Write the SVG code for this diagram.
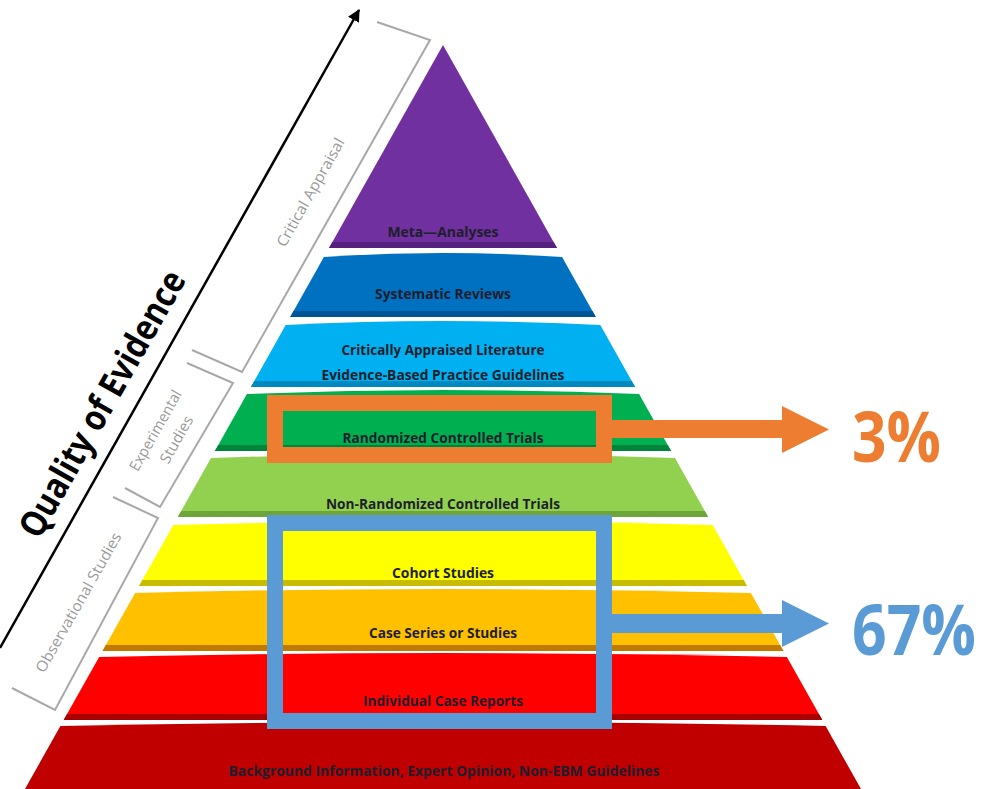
<svg xmlns="http://www.w3.org/2000/svg" width="982" height="789" viewBox="0 0 982 789">
<defs>
<style>
.lbl{font-family:"Open Sans","Liberation Sans",sans-serif;font-weight:bold;font-size:15px;fill:#1e1e2c;text-anchor:middle}
.gl{font-family:"Open Sans","Liberation Sans",sans-serif;font-size:15px;fill:#9a9a9a;text-anchor:middle}
.br{fill:none;stroke:#a8a8a8;stroke-width:2;stroke-linejoin:miter}
.pct{font-family:"Open Sans","Liberation Sans",sans-serif;font-weight:bold;font-size:60px}
</style>
<marker id="ah" viewBox="0 0 10 10" refX="9" refY="5" markerWidth="5" markerHeight="5" orient="auto">
<path d="M0,0 L10,5 L0,10 Z" fill="#000"/>
</marker>
</defs>
<rect width="982" height="789" fill="#fff"/>

<g id="axis">
<line x1="0" y1="648" x2="359" y2="10" stroke="#000" stroke-width="2.5" marker-end="url(#ah)"/>
<text transform="translate(113,410) rotate(-60.5)" x="0" y="0" text-anchor="middle" font-family="'Open Sans','Liberation Sans',sans-serif" font-weight="bold" font-size="36" fill="#000" textLength="300" lengthAdjust="spacingAndGlyphs">Quality of Evidence</text>
</g>

<g id="bracket-critical">
<polyline class="br" points="377,22 430,40 242,372 192,350"/>
<text class="gl" transform="translate(315,195) rotate(-60.5)" textLength="122" lengthAdjust="spacingAndGlyphs">Critical Appraisal</text>
</g>
<g id="bracket-experimental">
<polyline class="br" points="187,363 233,383 160,507 125,488"/>
<text class="gl" transform="translate(160,433) rotate(-60.5)" textLength="90" lengthAdjust="spacingAndGlyphs">Experimental</text>
<text class="gl" transform="translate(181,442) rotate(-60.5)" textLength="52" lengthAdjust="spacingAndGlyphs">Studies</text>
</g>
<g id="bracket-observational">
<polyline class="br" points="113,497 158,518 55,710 12,688"/>
<text class="gl" transform="translate(83,605) rotate(-60.5)" textLength="158" lengthAdjust="spacingAndGlyphs">Observational Studies</text>
</g>

<g id="meta-analyses">
<path d="M443,45 L557,248 L329,248 Z" fill="#7030a0"/>
<polygon points="332.4,242 553.6,242 557,248 329,248" fill="#55207e"/>
<text class="lbl" x="443" y="237" textLength="111" lengthAdjust="spacingAndGlyphs">Meta—Analyses</text>
</g>
<g id="systematic-reviews">
<path d="M323.9,257 Q443,249 562.1,257 L595.8,317 L290.2,317 Z" fill="#0070c0"/>
<polygon points="293.6,311 592.4,311 595.8,317 290.2,317" fill="#005596"/>
<text class="lbl" x="443" y="299" textLength="136" lengthAdjust="spacingAndGlyphs">Systematic Reviews</text>
</g>
<g id="critically-appraised">
<path d="M285.7,325 Q443,317 600.3,325 L635.1,387 L250.9,387 Z" fill="#00b0f0"/>
<polygon points="254.3,381 631.7,381 635.1,387 250.9,387" fill="#0088c0"/>
<text class="lbl" x="443" y="355" textLength="203" lengthAdjust="spacingAndGlyphs">Critically Appraised Literature</text>
<text class="lbl" x="443" y="380" textLength="243" lengthAdjust="spacingAndGlyphs">Evidence-Based Practice Guidelines</text>
</g>
<g id="rct">
<path d="M246.9,394 Q443,386 639.1,394 L671.1,451 L214.9,451 Z" fill="#00b050"/>
<polygon points="218.3,445 667.7,445 671.1,451 214.9,451" fill="#00843c"/>
<text class="lbl" x="443" y="443" textLength="201" lengthAdjust="spacingAndGlyphs">Randomized Controlled Trials</text>
</g>
<g id="non-rct">
<path d="M211,458 Q443,450 675,458 L708.2,517 L177.8,517 Z" fill="#92d050"/>
<polygon points="181.2,511 704.8,511 708.2,517 177.8,517" fill="#6ea53a"/>
<text class="lbl" x="443" y="509" textLength="234" lengthAdjust="spacingAndGlyphs">Non-Randomized Controlled Trials</text>
</g>
<g id="cohort">
<path d="M173.3,525 Q443,517 712.7,525 L747,586 L139,586 Z" fill="#ffff00"/>
<polygon points="142.4,580 743.6,580 747,586 139,586" fill="#c8bc00"/>
<text class="lbl" x="443" y="578" textLength="102" lengthAdjust="spacingAndGlyphs">Cohort Studies</text>
</g>
<g id="case-series">
<path d="M135.1,593 Q443,585 750.9,593 L783.5,651 L102.5,651 Z" fill="#ffc000"/>
<polygon points="105.9,645 780.1,645 783.5,651 102.5,651" fill="#c07a00"/>
<text class="lbl" x="443" y="638" textLength="148" lengthAdjust="spacingAndGlyphs">Case Series or Studies</text>
</g>
<g id="case-reports">
<path d="M99.1,657 Q443,649 786.9,657 L822.3,720 L63.7,720 Z" fill="#ff0000"/>
<polygon points="67.1,714 818.9,714 822.3,720 63.7,720" fill="#a80000"/>
<text class="lbl" x="443" y="706" textLength="160" lengthAdjust="spacingAndGlyphs">Individual Case Reports</text>
</g>
<g id="background">
<path d="M60.4,726 Q443,718 825.6,726 L864.4,795 L21.6,795 Z" fill="#c00000"/>
<text class="lbl" x="444" y="776" textLength="431" lengthAdjust="spacingAndGlyphs">Background Information, Expert Opinion, Non-EBM Guidelines</text>
</g>

<g id="highlight-rct">
<rect x="275" y="403" width="329" height="52" fill="none" stroke="#ed7d31" stroke-width="16"/>
</g>
<g id="highlight-observational">
<rect x="275" y="523" width="329" height="198" fill="none" stroke="#5b9bd5" stroke-width="16"/>
</g>

<g id="connectors">
<polygon points="610,420 782,420 782,406 829,429.5 782,453 782,438 610,438" fill="#ed7d31"/>
<polygon points="610,614 782,614 782,600 829,623.5 782,647 782,633 610,633" fill="#5b9bd5"/>
</g>

<g id="pct-3" transform="translate(852,462) scale(1,1.15)">
<text class="pct" x="0" y="0" fill="#ed7d31" textLength="89" lengthAdjust="spacingAndGlyphs">3%</text>
</g>
<g id="pct-67" transform="translate(852,655) scale(1,1.15)">
<text class="pct" x="0" y="0" fill="#5b9bd5" textLength="124" lengthAdjust="spacingAndGlyphs">67%</text>
</g>
</svg>
